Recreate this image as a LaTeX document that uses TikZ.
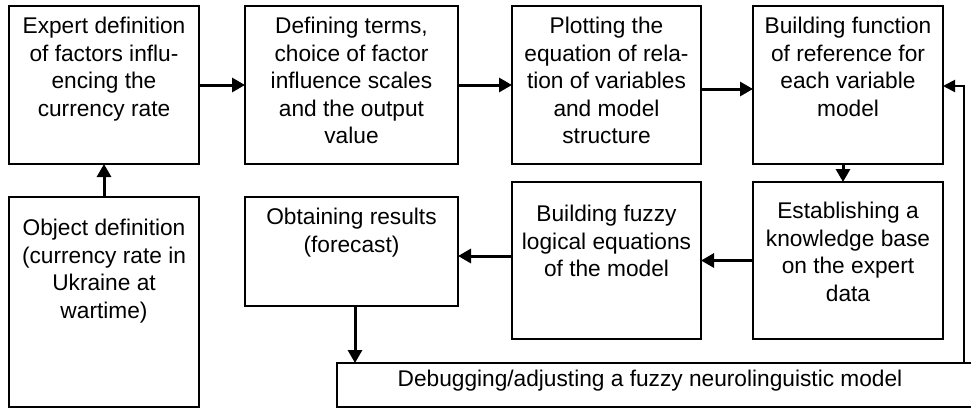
\documentclass[tikz,border=0pt]{standalone}
\usepackage{fontspec}
\setmainfont{Liberation Sans}
\usetikzlibrary{arrows.meta}
\begin{document}
\begin{tikzpicture}[x=1pt,y=-1pt,
  box/.style={draw,line width=1.4pt,inner sep=0pt,outer sep=0pt},
  txt/.style={align=center,font=\fontsize{22.7}{27.5}\selectfont,inner sep=0pt,anchor=north},
  bigarrow/.style={line width=3pt,-{Triangle[length=13pt,width=14pt]}},
  fbline/.style={line width=1.5pt},
  fbarrow/.style={line width=2pt,-{Triangle[length=12pt,width=12pt]}}]
\clip (0,0) rectangle (971,408);
% boxes
\node[box,minimum width=190pt,minimum height=158pt] (b1) at (104,85) {};
\node[box,minimum width=213pt,minimum height=158pt] (b2) at (351.5,85) {};
\node[box,minimum width=189pt,minimum height=158pt] (b3) at (606.5,85) {};
\node[box,minimum width=190pt,minimum height=158pt] (b4) at (848,85) {};
\node[box,minimum width=190pt,minimum height=210pt] (b5) at (104,302) {};
\node[box,minimum width=213pt,minimum height=109pt] (b6) at (351.5,251.5) {};
\node[box,minimum width=189pt,minimum height=157pt] (b7) at (606.5,260.5) {};
\node[box,minimum width=190pt,minimum height=157pt] (b8) at (848,260.5) {};
\node[box,minimum width=680pt,minimum height=44pt] (dbg) at (677,385) {};
% texts
\node[txt] (t1) at (104,17) {Expert definition\\of factors influ-\\encing the\\currency rate};
\node[txt] (t2) at (351.5,17) {Defining terms,\\choice of factor\\influence scales\\and the output\\value};
\node[txt] (t3) at (606.5,17) {Plotting the\\equation of rela-\\tion of variables\\and model\\structure};
\node[txt] (t4) at (848,17) {Building function\\of reference for\\each variable\\model};
\node[txt] (t5) at (104,219) {Object definition\\(currency rate in\\Ukraine at\\wartime)};
\node[txt] (t6) at (351.5,208) {Obtaining results\\(forecast)};
\node[txt] (t7) at (606.5,205) {Building fuzzy\\logical equations\\of the model};
\node[txt] (t8) at (848,202) {Establishing a\\knowledge base\\on the expert\\data};
\node[txt] (t9) at (650,370) {Debugging/adjusting a fuzzy neurolinguistic model};
% connectors
\draw[bigarrow] (b1.east) -- (b2.west);
\draw[bigarrow] (b2.east) -- (b3.west);
\draw[bigarrow] ([yshift=-4pt]b3.east) -- ([yshift=-4pt]b4.west);
\draw[bigarrow] (b5.north) -- (b1.south);
\draw[bigarrow] ([xshift=-5pt]b4.south) -- ([xshift=-5pt]b8.north);
\draw[bigarrow] (b8.west) -- (b7.east);
\draw[bigarrow] ([yshift=4.5pt]b7.west) -- ([yshift=4.5pt]b7.west -| b6.east);
\draw[bigarrow] ([xshift=3.5pt]b6.south) -- ([xshift=3.5pt]b6.south |- dbg.north);
\coordinate (fb) at (964,86);
\draw[fbline] (fb |- dbg.north) -- (fb);
\draw[fbarrow] ([xshift=0.75pt]fb) -- (fb -| b4.east);
\end{tikzpicture}
\end{document}
